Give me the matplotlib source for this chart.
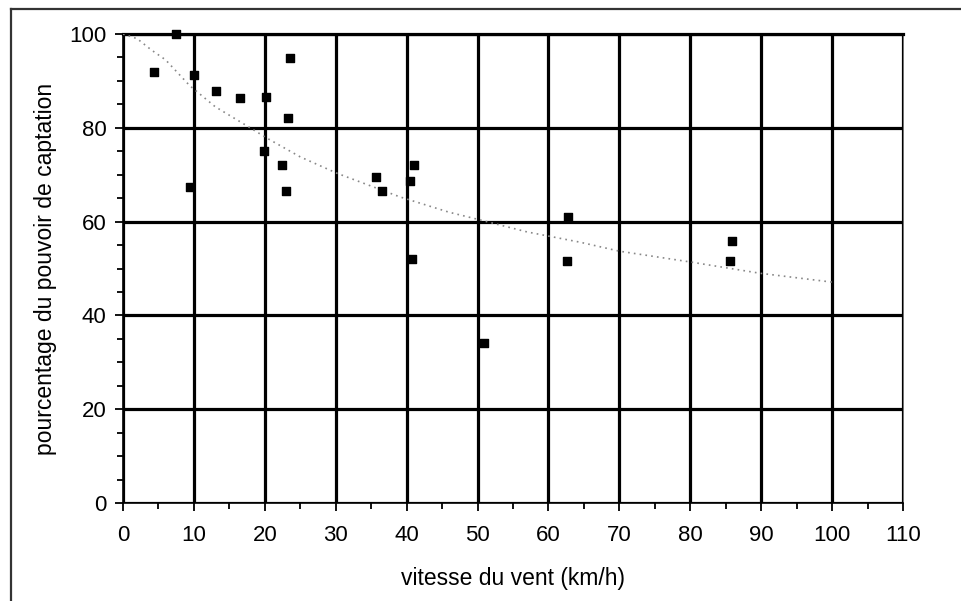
import matplotlib
matplotlib.use('Agg')
import matplotlib.pyplot as plt
from matplotlib.lines import Line2D
from matplotlib.ticker import MultipleLocator

plt.rcParams['font.family'] = ['Liberation Sans', 'DejaVu Sans']

# mesures : vitesse du vent (km/h) et pourcentage du pouvoir de captation
vitesse = [4.4, 7.5, 10.0, 13.1, 16.5, 20.2, 23.5, 23.3, 19.9, 22.4, 23.0, 9.4,
           35.7, 36.5, 41.0, 40.5, 40.8, 50.9, 62.8, 62.6, 85.9, 85.6]
captation = [92.0, 100.0, 91.3, 87.8, 86.4, 86.6, 94.9, 82.1, 75.1, 72.1, 66.5, 67.4,
             69.5, 66.5, 72.1, 68.7, 52.0, 34.1, 61.0, 51.6, 55.9, 51.6]

# courbe de tendance (pointillés)
courbe_x = [0, 2, 4, 6, 9.4, 13, 17.5, 20.3, 25, 30.2, 39, 46, 50, 57, 64.5, 70, 80, 89.8, 100]
courbe_y = [100, 99, 96.6, 94.5, 89, 84.5, 80.4, 77.8, 73.8, 70.3, 65.3, 62, 60.5, 57.8, 55.6, 53.7, 51.4, 49, 47.1]

fig = plt.figure(figsize=(9.61, 6.01), dpi=100)
ax = fig.add_axes([0.128, 0.163, 0.8116, 0.7804])

# cadre autour de la figure
fig.add_artist(Line2D([0.0115, 0.0115], [0, 0.985], color='#333333', linewidth=1.6))
fig.add_artist(Line2D([0.0115, 1.0], [0.985, 0.985], color='#333333', linewidth=1.6))

ax.plot(courbe_x, courbe_y, linestyle=(0, (1, 2.5)), color='#888888', linewidth=1.2, zorder=3)
ax.scatter(vitesse, captation, marker='s', s=32, color='black', zorder=4, clip_on=False)

ax.set_xlim(0, 110)
ax.set_ylim(0, 100)
ax.xaxis.set_major_locator(MultipleLocator(10))
ax.xaxis.set_minor_locator(MultipleLocator(5))
ax.yaxis.set_major_locator(MultipleLocator(20))
ax.yaxis.set_minor_locator(MultipleLocator(5))

ax.grid(True, which='major', color='black', linewidth=2.3)
for lines in (ax.get_xgridlines(), ax.get_ygridlines()):
    lines[0].set_visible(False)
ax.get_xgridlines()[-1].set_visible(False)
ax.set_axisbelow(False)

for s in ax.spines.values():
    s.set_linewidth(1.2)
ax.spines['right'].set_color('#555555')
ax.spines['top'].set_linewidth(2.3)

ax.tick_params(which='major', direction='out', length=6, width=1.3, labelsize=16, pad=6)
ax.tick_params(which='minor', direction='out', length=4, width=1.3)
ax.tick_params(axis='x', pad=10)

ax.set_xlabel('vitesse du vent (km/h)', fontsize=16.5, labelpad=15)
ax.set_ylabel('pourcentage du pouvoir de captation', fontsize=16.5, labelpad=8.5)

fig.savefig('out.png', dpi=100)
